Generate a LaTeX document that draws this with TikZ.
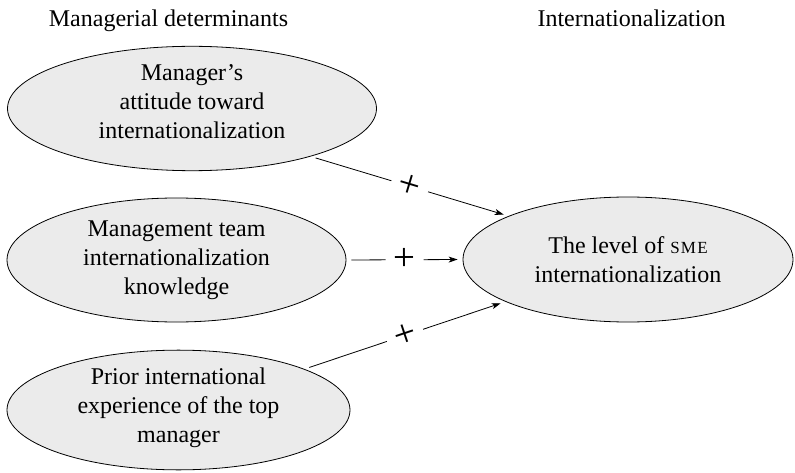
\documentclass[tikz,border=0pt]{standalone}
\usepackage{fontspec}
\setmainfont{Liberation Serif}
\usetikzlibrary{shapes.geometric,arrows.meta}
\newcommand{\smallcapsSME}{{\fontsize{17}{17}\selectfont S\kern1.2pt M\kern1.2pt E}}
\tikzset{
  oval/.style={ellipse, draw=black, line width=0.8pt, fill=black!8, inner sep=0pt,
    align=center, font=\fontsize{24}{29}\selectfont},
  heading/.style={font=\fontsize{24}{29}\selectfont, inner sep=0pt, anchor=base},
  link/.style={-{Stealth[length=9pt,width=6pt,inset=2.5pt]}, line width=0.8pt,
    shorten <=5pt, shorten >=5pt},
  plussign/.style={sloped, fill=white, inner xsep=8pt, inner ysep=0pt,
    font=\fontsize{39}{39}\selectfont, pos=0.5}
}
\begin{document}
\begin{tikzpicture}[x=1pt,y=-1pt]
\useasboundingbox (0,0) rectangle (795,473);
\node[heading] (t1) at (168.5,27) {Managerial determinants};
\node[heading] (t2) at (631.5,27) {Internationalization};
\node[oval, minimum width=369pt, minimum height=123pt] (e1) at (192,108.5)
  {Manager's\\attitude toward\\internationalization\rule[-14pt]{0pt}{0pt}};
\node[oval, minimum width=339pt, minimum height=124pt] (e2) at (176.5,260)
  {Management team\\internationalization\\knowledge};
\node[oval, minimum width=343pt, minimum height=116pt] (e3) at (178.5,410)
  {Prior international\\experience of the top\\manager\rule[-10pt]{0pt}{0pt}};
\node[oval, minimum width=330pt, minimum height=125pt] (eR) at (628,259.5)
  {The level of \smallcapsSME\\internationalization};
\draw[link] (e1.-22.5) -- node[plussign]{+} (eR.160.8);
\draw[link] (e2.east) -- node[plussign]{+} (eR.west);
\draw[link] (e3.18.4) -- node[plussign]{+} (eR.199.2);
\end{tikzpicture}
\end{document}
